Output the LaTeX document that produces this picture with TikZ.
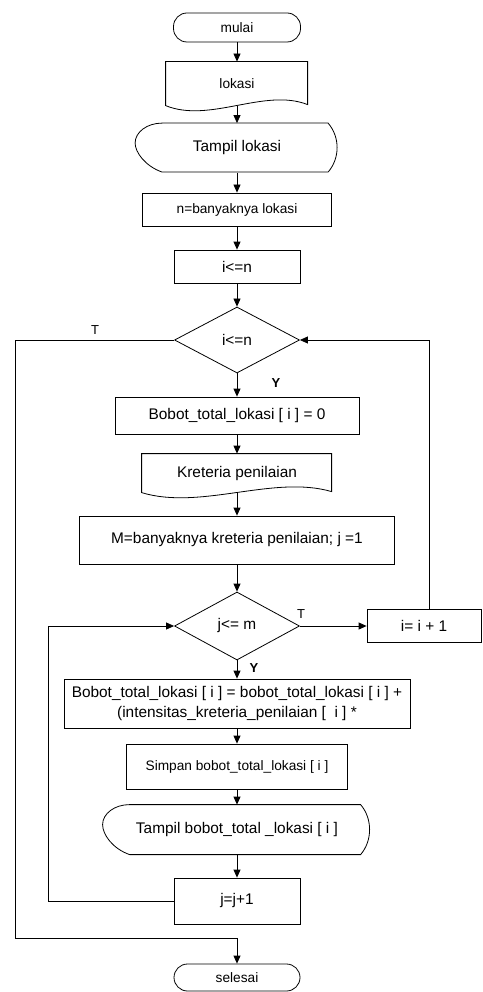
\documentclass[tikz,border=0pt]{standalone}
\usepackage{fontspec}
\setmainfont{Liberation Sans}
\usetikzlibrary{shapes.geometric,arrows.meta}

\begin{document}
\begin{tikzpicture}[
		x=1pt, y=-1pt,
		line width=.8pt,
		>={Triangle[length=8pt,width=7pt]},
		big/.style = {font=\fontsize{15.4}{20}\selectfont},
		small/.style = {font=\fontsize{13.7}{16}\selectfont},
		lbl/.style = {font=\fontsize{13}{15}\selectfont, inner sep=0pt},
		proc/.style = {draw, rectangle, inner sep=0pt},
		term/.style = {draw, rectangle, rounded corners=13.5pt, inner sep=0pt, small},
		cond/.style = {draw, diamond, aspect=2, inner sep=0pt, minimum width=125pt, minimum height=66pt, big},
		hidden/.style = {rectangle, inner sep=0pt}
	]
	\useasboundingbox (0,0) rectangle (482,992);
	% Input part.
	\node[term, minimum width=127pt, minimum height=29pt] (start) at (237,27.5) {mulai};
	\node[hidden, small, minimum width=142pt, minimum height=44pt] (lok) at (237,84) {lokasi};
	\draw[shift={(lok.north west)}] (0,0) -- (142,0) -- (142,43) .. controls (99,26) and (44,62) .. (0,44) -- cycle;
	\node[hidden, big, minimum width=203pt, minimum height=49pt] (tl) at (237,148) {Tampil lokasi};
	\draw[shift={(tl.north west)}] (27,0) -- (193,0) .. controls (205,14) and (205,35) .. (193,49) -- (27,49)
		.. controls (10,43) and (0,29) .. (0,20) .. controls (0,9) and (12,0) .. (27,0) -- cycle;
	\node[proc, small, minimum width=189pt, minimum height=33pt] (nbox) at (237,209.5) {n=banyaknya lokasi};
	\node[proc, big, minimum width=126pt, minimum height=33pt] (init) at (237,266.5) {i<=n};
	% Outer loop.
	\node[cond] (d1) at (237,340) {i<=n};
	\node[proc, big, minimum width=244pt, minimum height=37pt] (b0) at (237,415.5) {Bobot\_total\_lokasi [ i ] = 0};
	\node[hidden, big, minimum width=190pt, minimum height=39pt] (kp) at (237,473.5) {Kreteria penilaian};
	\draw[shift={(kp.north west)}] (0,0) -- (190,0) -- (190,38) .. controls (132,21) and (59,57) .. (0,39) -- cycle;
	\node[proc, big, minimum width=315pt, minimum height=48pt] (mbox) at (237,540) {M=banyaknya kreteria penilaian; j =1};
	% Inner loop.
	\node[cond, minimum height=68pt] (d2) at (237,626) {j<= m};
	\node[proc, big, minimum width=114pt, minimum height=33pt] (inc) at (424,626) {i= i + 1};
	\node[proc, big, align=center, minimum width=346pt, minimum height=49pt] (calc) at (237,703.5)
		{Bobot\_total\_lokasi [ i ] = bobot\_total\_lokasi [ i ] +\\(intensitas\_kreteria\_penilaian [\ \ i ] *};
	\node[proc, small, minimum width=221pt, minimum height=45pt] (simpan) at (237,766.5) {Simpan bobot\_total\_lokasi [ i ]};
	\node[hidden, big, minimum width=268pt, minimum height=50pt] (tb) at (237,830) {Tampil bobot\_total \_lokasi [ i ]};
	\draw[shift={(tb.north west)}] (27,0) -- (258,0) .. controls (270,14) and (270,36) .. (258,50) -- (27,50)
		.. controls (10,44) and (0,30) .. (0,20) .. controls (0,9) and (12,0) .. (27,0) -- cycle;
	\node[proc, big, minimum width=126pt, minimum height=46pt] (jinc) at (237,901) {j=j+1};
	\node[term, minimum width=126pt, minimum height=27pt] (stop) at (237,977.5) {selesai};
	\coordinate (lft) at (15,938);
	% Labels.
	\node[lbl] (t1) at (95,330) {T};
	\node[lbl, font=\fontsize{13}{15}\selectfont\bfseries] (y1) at (276,383) {Y};
	\node[lbl] (t2) at (301,614) {T};
	\node[lbl, font=\fontsize{13}{15}\selectfont\bfseries] (y2) at (254,668) {Y};

	\draw[->] (start) -- (lok);
	\draw[->] (lok) -- (tl);
	\draw[->] (tl) -- (nbox);
	\draw[->] (nbox) -- (init);
	\draw[->] (init) -- (d1);
	\draw[->] (d1) -- (b0);
	\draw[->] (b0) -- (kp);
	\draw[->] (kp) -- (mbox);
	\draw[->] (mbox) -- (d2);
	\draw[->] (d2) -- (calc);
	\draw[->] (calc) -- (simpan);
	\draw[->] (simpan) -- (tb);
	\draw[->] (tb) -- (jinc);
	\draw[->] (d2.east) -- (inc.west);
	\draw[->] ([xshift=5pt]inc.north) |- (d1.east);
	\draw[->] (jinc.west) -- ++(-125,0) |- (d2.west);
	\draw[->] (d1.west) -| (lft) -- (lft -| stop.north) -- (stop.north);
\end{tikzpicture}
\end{document}
